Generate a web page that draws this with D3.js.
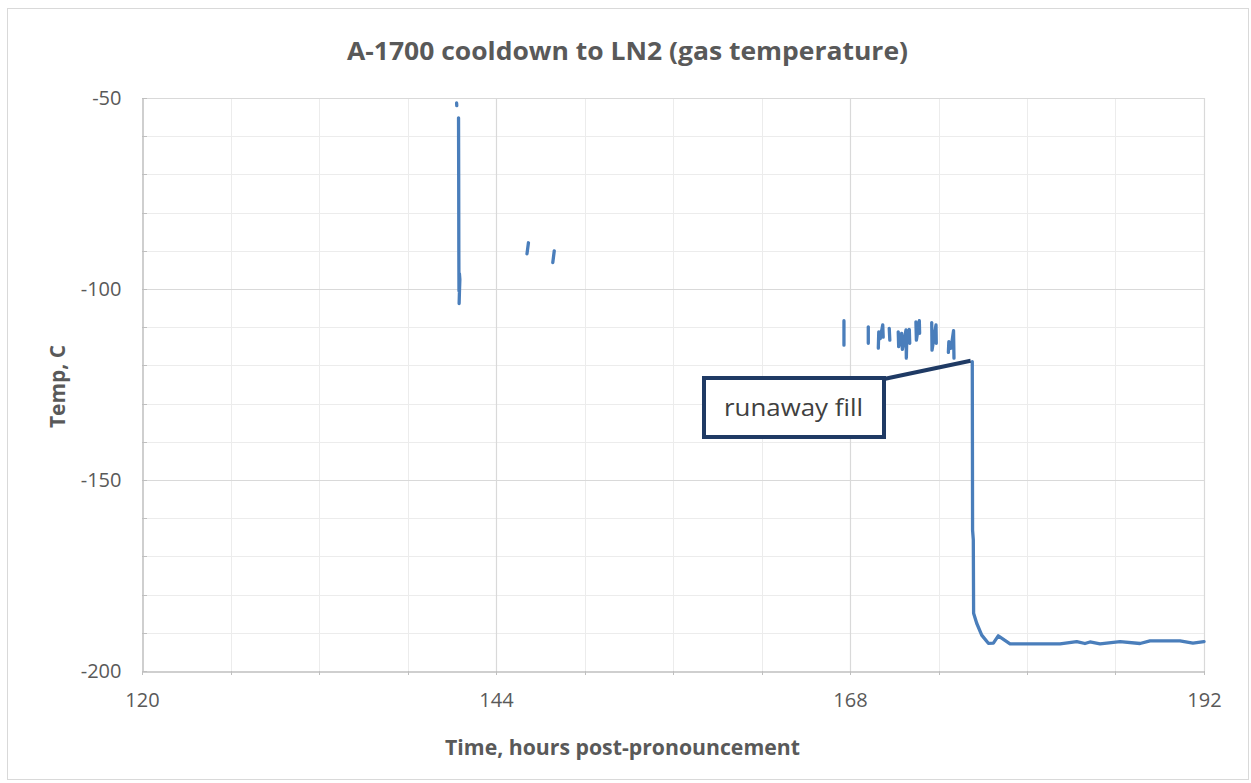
<!DOCTYPE html>
<html>
<head>
<meta charset="utf-8">
<script src="https://cdn.jsdelivr.net/npm/d3@7"></script>
<style>
  html, body { margin: 0; padding: 0; background: #fff; }
  svg { display: block; }
  text { font-family: "Open Sans", "Noto Sans", sans-serif; }
</style>
</head>
<body>
<script>
// ---------- data (null marks a gap in the logged record) ----------
const hours = [
  141.33, 141.34, null,
  141.46, 141.47, 141.48, 141.49, 141.52, 141.55, 141.52, 141.50, null,
  146.10, 146.20, null,
  147.85, 147.95, null,
  167.59, 167.59, null,
  169.24, 169.24, null,
  169.92, 169.95, 170.05, 170.22, 170.25, null,
  170.66, 170.70, null,
  171.27, 171.30, 171.50, 171.55, 171.80, 171.82, 171.85, 172.02, 172.05, null,
  172.47, 172.50, 172.70, 172.72, null,
  173.54, 173.56, 173.83, 173.85, null,
  174.67, 174.70, 174.85, 175.02, 175.05, null,
  176.29, 176.30, 176.31, 176.36, 176.38, 176.59, 176.93, 177.38, 177.72, 178.05,
  178.28, 178.85, 180.50, 182.24, 183.37, 183.93, 184.27, 184.95, 186.31, 187.66,
  188.34, 190.37, 191.25, 192.00
];
const tempC = [
  -51.3, -52.0, null,
  -55.2, -70.0, -90.0, -100.5, -96.0, -97.5, -101.0, -103.8, null,
  -90.8, -87.9, null,
  -93.1, -90.0, null,
  -108.3, -114.7, null,
  -109.9, -114.2, null,
  -115.5, -111.2, -113.0, -109.4, -112.6, null,
  -110.3, -113.4, null,
  -111.2, -115.1, -111.6, -115.8, -110.7, -118.1, -113.0, -110.6, -114.2, null,
  -108.6, -113.4, -108.3, -111.6, null,
  -108.8, -116.0, -109.4, -114.2, null,
  -116.6, -113.8, -115.5, -110.9, -118.1, null,
  -119.0, -140.0, -163.1, -165.7, -184.9, -187.5, -190.6, -192.75, -192.7, -190.8,
  -191.4, -192.9, -192.9, -192.9, -192.3, -192.8, -192.4, -192.9, -192.3, -192.8,
  -192.1, -192.1, -192.7, -192.3
];
const xMajorTicks = [120, 144, 168, 192];
const yMajorTicks = [-50, -100, -150, -200];
const xMinorStep = 6;
const yMinorStep = 10;
const titleText = "A-1700 cooldown to LN2 (gas temperature)";
const xTitle = "Time, hours post-pronouncement";
const yTitle = "Temp, C";
const calloutText = "runaway fill";
const calloutPoint = [176.18, -118.8];

// ---------- layout ----------
const W = 1251, H = 783;
const plot = { left: 142, right: 1204, top: 98, bottom: 671 };

const svg = d3.select("body").append("svg").attr("width", W).attr("height", H);

// outer chart border
svg.append("rect").attr("x", 7.5).attr("y", 8.5).attr("width", 1241).attr("height", 771)
  .attr("fill", "#fff").attr("stroke", "#d9d9d9").attr("stroke-width", 1);

const x = d3.scaleLinear().domain([120, 192]).range([plot.left, plot.right]);
const y = d3.scaleLinear().domain([-200, -50]).range([plot.bottom, plot.top]);

const xMinor = d3.range(120, 192.001, xMinorStep);
const yMinor = d3.range(-200, -49.999, yMinorStep);

// minor gridlines
const g = svg.append("g");
g.selectAll(".xminor").data(xMinor.filter(v => !xMajorTicks.includes(v))).join("line")
  .attr("x1", d => Math.round(x(d)) + 0.5).attr("x2", d => Math.round(x(d)) + 0.5)
  .attr("y1", plot.top).attr("y2", plot.bottom)
  .attr("stroke", "#ececec").attr("stroke-width", 1);
g.selectAll(".yminor").data(yMinor.filter(v => !yMajorTicks.includes(v))).join("line")
  .attr("x1", plot.left).attr("x2", plot.right)
  .attr("y1", d => Math.round(y(d)) + 0.5).attr("y2", d => Math.round(y(d)) + 0.5)
  .attr("stroke", "#ececec").attr("stroke-width", 1);
// major gridlines
g.selectAll(".xmajor").data(xMajorTicks.slice(1)).join("line")
  .attr("x1", d => Math.round(x(d)) + 0.5).attr("x2", d => Math.round(x(d)) + 0.5)
  .attr("y1", plot.top).attr("y2", plot.bottom)
  .attr("stroke", "#d9d9d9").attr("stroke-width", 1.2);
g.selectAll(".ymajor").data(yMajorTicks.slice(0, 3)).join("line")
  .attr("x1", plot.left).attr("x2", plot.right)
  .attr("y1", d => Math.round(y(d)) + 0.5).attr("y2", d => Math.round(y(d)) + 0.5)
  .attr("stroke", "#d9d9d9").attr("stroke-width", 1.2);

// axes
const fmt = d => String(d);
const xAxis = d3.axisBottom(x).tickValues(xMajorTicks).tickSize(0).tickPadding(21).tickFormat(fmt);
const yAxis = d3.axisLeft(y).tickValues(yMajorTicks).tickSize(0).tickPadding(21).tickFormat(fmt);
const gx = svg.append("g").attr("transform", `translate(0,${plot.bottom + 0.5})`).call(xAxis);
const gy = svg.append("g").attr("transform", `translate(${plot.left + 0.5},0)`).call(yAxis);
[gx, gy].forEach(a => {
  a.select(".domain").attr("stroke", "#bfbfbf").attr("stroke-width", 1.5);
  a.selectAll("text").attr("fill", "#595959").attr("font-size", 20).attr("font-family", "Open Sans");
});
// minor tick marks
svg.append("g").selectAll("line").data(xMinor).join("line")
  .attr("x1", d => Math.round(x(d)) + 0.5).attr("x2", d => Math.round(x(d)) + 0.5)
  .attr("y1", plot.bottom).attr("y2", plot.bottom + 4)
  .attr("stroke", "#bfbfbf");
svg.append("g").selectAll("line").data(yMinor).join("line")
  .attr("x1", plot.left).attr("x2", plot.left + 5)
  .attr("y1", d => Math.round(y(d)) + 0.5).attr("y2", d => Math.round(y(d)) + 0.5)
  .attr("stroke", "#bfbfbf");

// series
const pts = hours.map((h, i) => ({ h, t: tempC[i] }));
const line = d3.line()
  .defined(d => d.h !== null && d.t !== null)
  .x(d => x(d.h)).y(d => y(d.t));
svg.append("path").datum(pts)
  .attr("d", line)
  .attr("fill", "none").attr("stroke", "#4a7ebb").attr("stroke-width", 3.3)
  .attr("stroke-linejoin", "round").attr("stroke-linecap", "round");

// titles
svg.append("text").attr("x", 627.5).attr("y", 60).attr("text-anchor", "middle")
  .attr("font-size", 25.5).attr("font-weight", "bold").attr("fill", "#595959")
  .attr("textLength", 561).attr("lengthAdjust", "spacingAndGlyphs").text(titleText);
svg.append("text").attr("x", 622.5).attr("y", 755).attr("text-anchor", "middle")
  .attr("font-size", 21).attr("font-weight", "bold").attr("fill", "#595959")
  .attr("textLength", 355).attr("lengthAdjust", "spacingAndGlyphs").text(xTitle);
svg.append("text").attr("transform", "translate(65,386.5) rotate(-90)").attr("text-anchor", "middle")
  .attr("font-size", 20.5).attr("font-weight", "bold").attr("fill", "#595959")
  .attr("textLength", 83).attr("lengthAdjust", "spacingAndGlyphs").text(yTitle);

// callout
const box = { x: 704, y: 378, w: 180, h: 59 };
svg.append("line")
  .attr("x1", box.x + box.w).attr("y1", box.y + 1)
  .attr("x2", x(calloutPoint[0])).attr("y2", y(calloutPoint[1]))
  .attr("stroke", "#1f3a64").attr("stroke-width", 4);
svg.append("rect").attr("x", box.x).attr("y", box.y).attr("width", box.w).attr("height", box.h)
  .attr("fill", "#fff").attr("stroke", "#1f3a64").attr("stroke-width", 4);
svg.append("text").attr("x", box.x + 20).attr("y", box.y + 38)
  .attr("font-size", 24).attr("fill", "#404040").attr("font-family", "Open Sans")
  .attr("textLength", 139).attr("lengthAdjust", "spacingAndGlyphs").text(calloutText);
</script>
</body>
</html>
